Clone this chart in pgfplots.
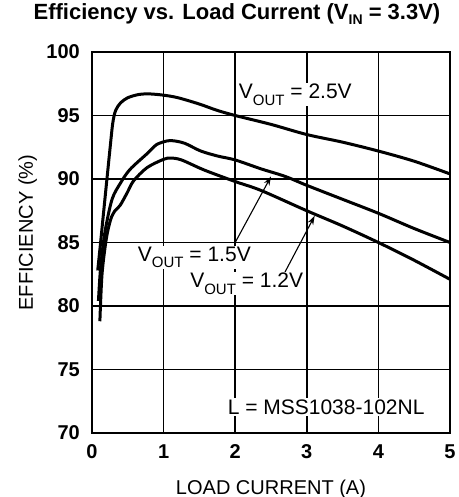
\documentclass[border=0pt]{standalone}
\usepackage{fontspec}
\setmainfont{Liberation Sans}
\usepackage{pgfplots}
\pgfplotsset{compat=1.18}
\usetikzlibrary{arrows.meta,calc}
\newcommand{\sub}[1]{\raisebox{-6.5pt}{\fontsize{15}{15}\selectfont #1}}
\newcommand{\tsub}[1]{\raisebox{-4.5pt}{\fontsize{14}{14}\selectfont #1}}
\begin{document}
\begin{tikzpicture}
\begin{axis}[
  scale only axis, width=358pt, height=381pt,
  xmin=0, xmax=5, ymin=70, ymax=100,
  xtick={0,1,2,3,4,5}, ytick={70,75,80,85,90,95,100},
  grid=major, grid style={black, line width=1.8pt},
  axis line style={line width=2.2pt},
  major tick length=0pt,
  /pgf/number format/assume math mode=true,
  ticklabel style={font=\fontsize{20}{21}\selectfont\bfseries, inner sep=0pt},
  xticklabel style={anchor=center, yshift=-19pt},
  yticklabel style={anchor=east, xshift=-12pt},
  xlabel={LOAD CURRENT (A)}, ylabel={EFFICIENCY (\%)},
  label style={font=\fontsize{20}{22}\selectfont, inner sep=0pt},
  xlabel style={at={(axis description cs:0.5,0)}, anchor=base, yshift=-61pt},
  ylabel style={at={(axis description cs:0,0.526)}, anchor=base, yshift=59pt},
  title={Efficiency vs. Load Current (V\tsub{IN} = 3.3V)},
  title style={font=\fontsize{22}{24}\selectfont\bfseries, inner sep=0pt, at={(axis description cs:0.405,1)}, anchor=base, yshift=26pt},
]
\addplot[black, line width=3pt, smooth, tension=0.5] coordinates {(0.08,82.8)(0.12,85.0)(0.18,88.4)(0.25,92.3)(0.29,94.4)(0.33,95.4)(0.4,96.0)(0.5,96.4)(0.65,96.65)(0.8,96.7)(1.0,96.6)(1.2,96.4)(1.5,95.9)(1.75,95.4)(2.0,95.0)(2.5,94.3)(3.0,93.5)(3.5,92.9)(4.0,92.2)(4.5,91.4)(5.0,90.4)};
\addplot[black, line width=3pt, smooth, tension=0.5] coordinates {(0.09,80.4)(0.12,83)(0.18,85.8)(0.28,88.4)(0.4,89.7)(0.53,90.75)(0.77,92.0)(0.9,92.7)(1.05,93.0)(1.15,93.0)(1.3,92.8)(1.52,92.2)(1.76,91.8)(2.0,91.5)(2.36,90.8)(2.7,90.2)(3.0,89.5)(3.5,88.4)(4.0,87.3)(4.5,86.1)(5.0,85.0)};
\addplot[black, line width=3pt, smooth, tension=0.5] coordinates {(0.11,78.8)(0.14,82.5)(0.2,85.3)(0.26,86.8)(0.32,87.5)(0.39,87.9)(0.49,88.9)(0.58,89.85)(0.77,90.9)(1.0,91.55)(1.1,91.65)(1.25,91.5)(1.57,90.7)(2.0,89.8)(2.36,89.1)(3.0,87.5)(3.5,86.3)(4.0,85.0)(4.5,83.6)(5.0,82.1)};
\draw[line width=1.1pt, -{Stealth[length=9pt,width=6pt]}] (axis cs:2.0,85.0) -- (axis cs:2.5,90.2);
\draw[line width=1.1pt, -{Stealth[length=9pt,width=6pt]}] (axis cs:2.67,82.4) -- (axis cs:3.11,87.1);
\node[fill=white, inner sep=1pt, anchor=base, font=\fontsize{21}{22}\selectfont] at (axis cs:2.84,96.33) {V\sub{OUT} = 2.5V};
\node[fill=white, inner sep=1pt, anchor=base, font=\fontsize{21}{22}\selectfont] at (axis cs:1.43,83.54) {V\sub{OUT} = 1.5V};
\node[fill=white, inner sep=1pt, anchor=base, font=\fontsize{21}{22}\selectfont] at (axis cs:2.16,81.45) {V\sub{OUT} = 1.2V};
\node[fill=white, inner sep=1.5pt, anchor=base, font=\fontsize{21}{22}\selectfont] at (axis cs:3.27,71.45) {L = MSS1038-102NL};
\end{axis}
\pgfresetboundingbox
\path ($(current axis.south west)+(-92pt,-64pt)$) rectangle ($(current axis.north east)+(9pt,52pt)$);
\end{tikzpicture}
\end{document}
